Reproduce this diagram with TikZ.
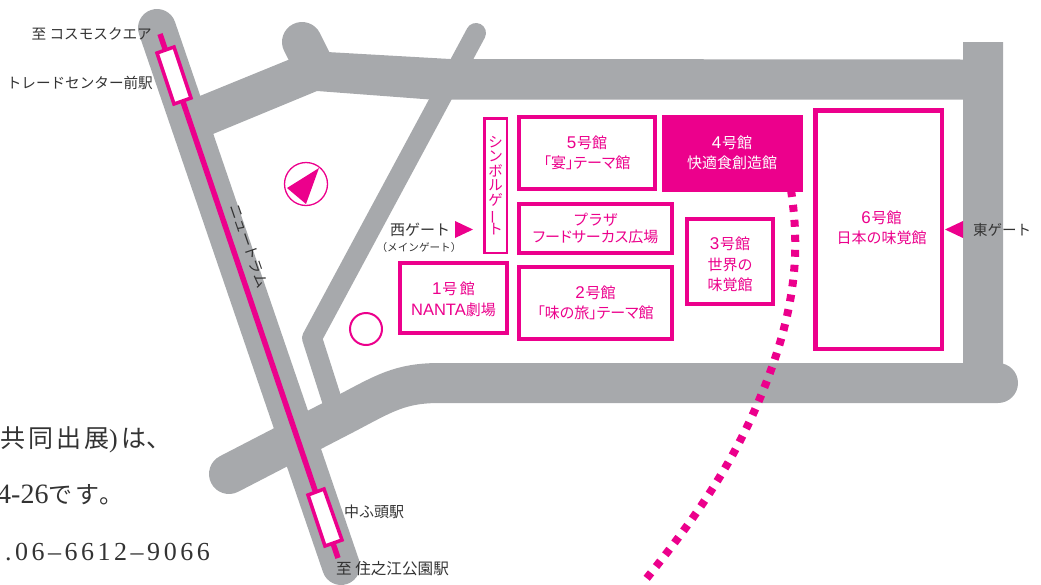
\documentclass[tikz,border=0pt]{standalone}
\usepackage{fontspec}
\setmainfont{Noto Sans CJK JP}
\newfontfamily\palt[RawFeature=+palt]{Noto Sans CJK JP}
\newfontfamily\latinsans{Liberation Sans}
\newfontfamily\latinserif{Liberation Serif}
\newfontfamily\spacedserif[LetterSpace=13.5]{Liberation Serif}
\newfontfamily\spacedcjk[LetterSpace=12]{Noto Sans CJK JP}
\definecolor{roadgray}{HTML}{A7A9AC}
\definecolor{hotpink}{HTML}{EC008C}
\definecolor{inkdark}{HTML}{333333}
\newcommand{\lab}[1]{\fontsize{#1}{#1}\selectfont}
\newcommand{\dg}[1]{{\latinsans\lab{17}#1}\kern1pt}
\tikzset{
  road/.style={draw=roadgray,line cap=round,line join=round},
  bldg/.style={draw=hotpink,fill=white,line width=4pt,text=hotpink,align=center,inner sep=0pt,font=\fontsize{15}{20.5}\selectfont},
  bldglabel/.style={text=hotpink,align=center,inner sep=0pt,font=\fontsize{15}{20.5}\selectfont},
  station/.style={draw=hotpink,fill=white,line width=3.5pt},
  maplabel/.style={text=inkdark,inner sep=0pt,font=\lab{14.6}},
  bodytext/.style={text=inkdark,inner sep=0pt,anchor=base west,font=\lab{24}},
}
\begin{document}
\begin{tikzpicture}[x=1pt,y=-1pt]
\useasboundingbox (0,0) rectangle (1041,584);
% roads
\fill[roadgray] (190,100) -- (288,60) -- (327,52) -- (450,59) -- (963,59.5) -- (963,42) -- (1003,42) -- (1003,370) -- (963,370) -- (963,99.5) -- (430,99.5) -- (317,91) -- (213,134) -- cycle;
\draw[road,line width=40pt] (302,42) -- (312,62);
\draw[road,line width=38pt] (157,28) -- (341,566);
\draw[road,line width=20pt] (476,33) -- (312,338) -- (335,410);
\draw[road,line width=40pt] (229,474) -- (345,414) .. controls (385,393) and (400,383) .. (440,383) -- (998,383);
% tram
\draw[hotpink,line width=5.5pt] (160,34) -- (338,558);
\draw[station] (157,53) -- (174,47) -- (191,98) -- (174,104) -- cycle;
\draw[station] (308,495) -- (324,489) -- (342,540) -- (325,546) -- cycle;
% dotted path
\draw[hotpink,line width=8pt,dash pattern=on 7pt off 8pt] (791,190) .. controls (800,250) and (797,310) .. (760,398) .. controls (730,470) and (690,525) .. (642,584);
% buildings
\node[bldg,line width=2.5pt,minimum width=22.5pt,minimum height=134.5pt,font=\fontsize{14.5}{14.6}\selectfont] (symbol) at (495.5,185.5) {シ\\ン\\ボ\\ル\\ゲ\\\smash{\rotatebox[origin=c]{90}{ー}}\\ト};
\node[bldg,minimum width=136pt,minimum height=72pt] (b5) at (587,153) {\dg{5}号館\\{\palt 「宴」テーマ館}};
\node[bldg,fill=hotpink,text=white,draw=hotpink,line width=0pt,minimum width=140pt,minimum height=76pt] (b4) at (732,153) {\dg{4}号館\\快適食創造館};
\node[bldg,minimum width=153pt,minimum height=49pt,font=\fontsize{15}{17.5}\selectfont] (plaza) at (595.5,228.5) {プラザ\\{\palt フードサーカス広場}};
\node[bldg,minimum width=107pt,minimum height=70pt] (b1) at (453.5,298) {};
\node[bldglabel] (b1label) at (453.5,299.5) {\dg{1}号\,館\\{\latinsans\lab{16.5}NANTA}劇場};
\node[bldg,minimum width=153pt,minimum height=72pt] (b2) at (595.5,303) {\dg{2}号館\\{\palt 「味の旅」テーマ館}};
\node[bldg,minimum width=86pt,minimum height=85pt] (b3) at (730,261.5) {};
\node[bldglabel] (b3label) at (730,264.5) {\dg{3}号館\\世界の\\味覚館};
\node[bldg,line width=4.5pt,minimum width=126.5pt,minimum height=238.5pt] (b6) at (878.5,229.5) {};
\node[bldglabel] (b6label) at (881.5,228) {\dg{6}号館\\日本の味覚館};
% circles
\node[draw=hotpink,line width=2pt,circle,minimum size=32pt,inner sep=0pt] (ring) at (366,329) {};
\node[draw=hotpink,line width=1.3pt,circle,minimum size=43pt,inner sep=0pt] (compass) at (306,184) {};
\fill[hotpink] (319,168) -- (287,188) -- (306,204) -- cycle;
% gates
\fill[hotpink] (455,221) -- (473,229.5) -- (455,238) -- cycle;
\fill[hotpink] (945,229.5) -- (963,221) -- (963,238) -- cycle;
% labels
\node[maplabel,anchor=east] (l1) at (152,34) {至 コスモスクエア};
\node[maplabel,anchor=east] (l2) at (153,83) {トレードセンター前駅};
\node[maplabel,rotate=-71] (l3) at (249,246) {ニュートラム};
\node[maplabel,anchor=west,font=\lab{15}] (l4) at (344,512) {中ふ頭駅};
\node[maplabel,anchor=west,font=\lab{15.6}] (l5) at (336,569) {至 住之江公園駅};
\node[maplabel,font=\lab{15}] (l6) at (420,230) {西ゲート};
\node[maplabel,font=\lab{10.6}] (l7) at (419,247) {（メインゲート）};
\node[maplabel,anchor=west,font=\lab{14.5}] (l8) at (973,230) {東ゲート};
% cut-off body text
\node[bodytext,font=\lab{25}] (t1) at (0,447) {{\spacedcjk 共同出展}{\latinserif\lab{26})}\kern4pt は、};
\node[bodytext,anchor=base west] (t2) at (-3,503) {{\latinserif\lab{28}4-26}{\spacedcjk\lab{24}です。}};
\node[bodytext,anchor=base east] (t3) at (210,560) {{\spacedserif\lab{26}.06–6612–9066}};
\end{tikzpicture}
\end{document}
